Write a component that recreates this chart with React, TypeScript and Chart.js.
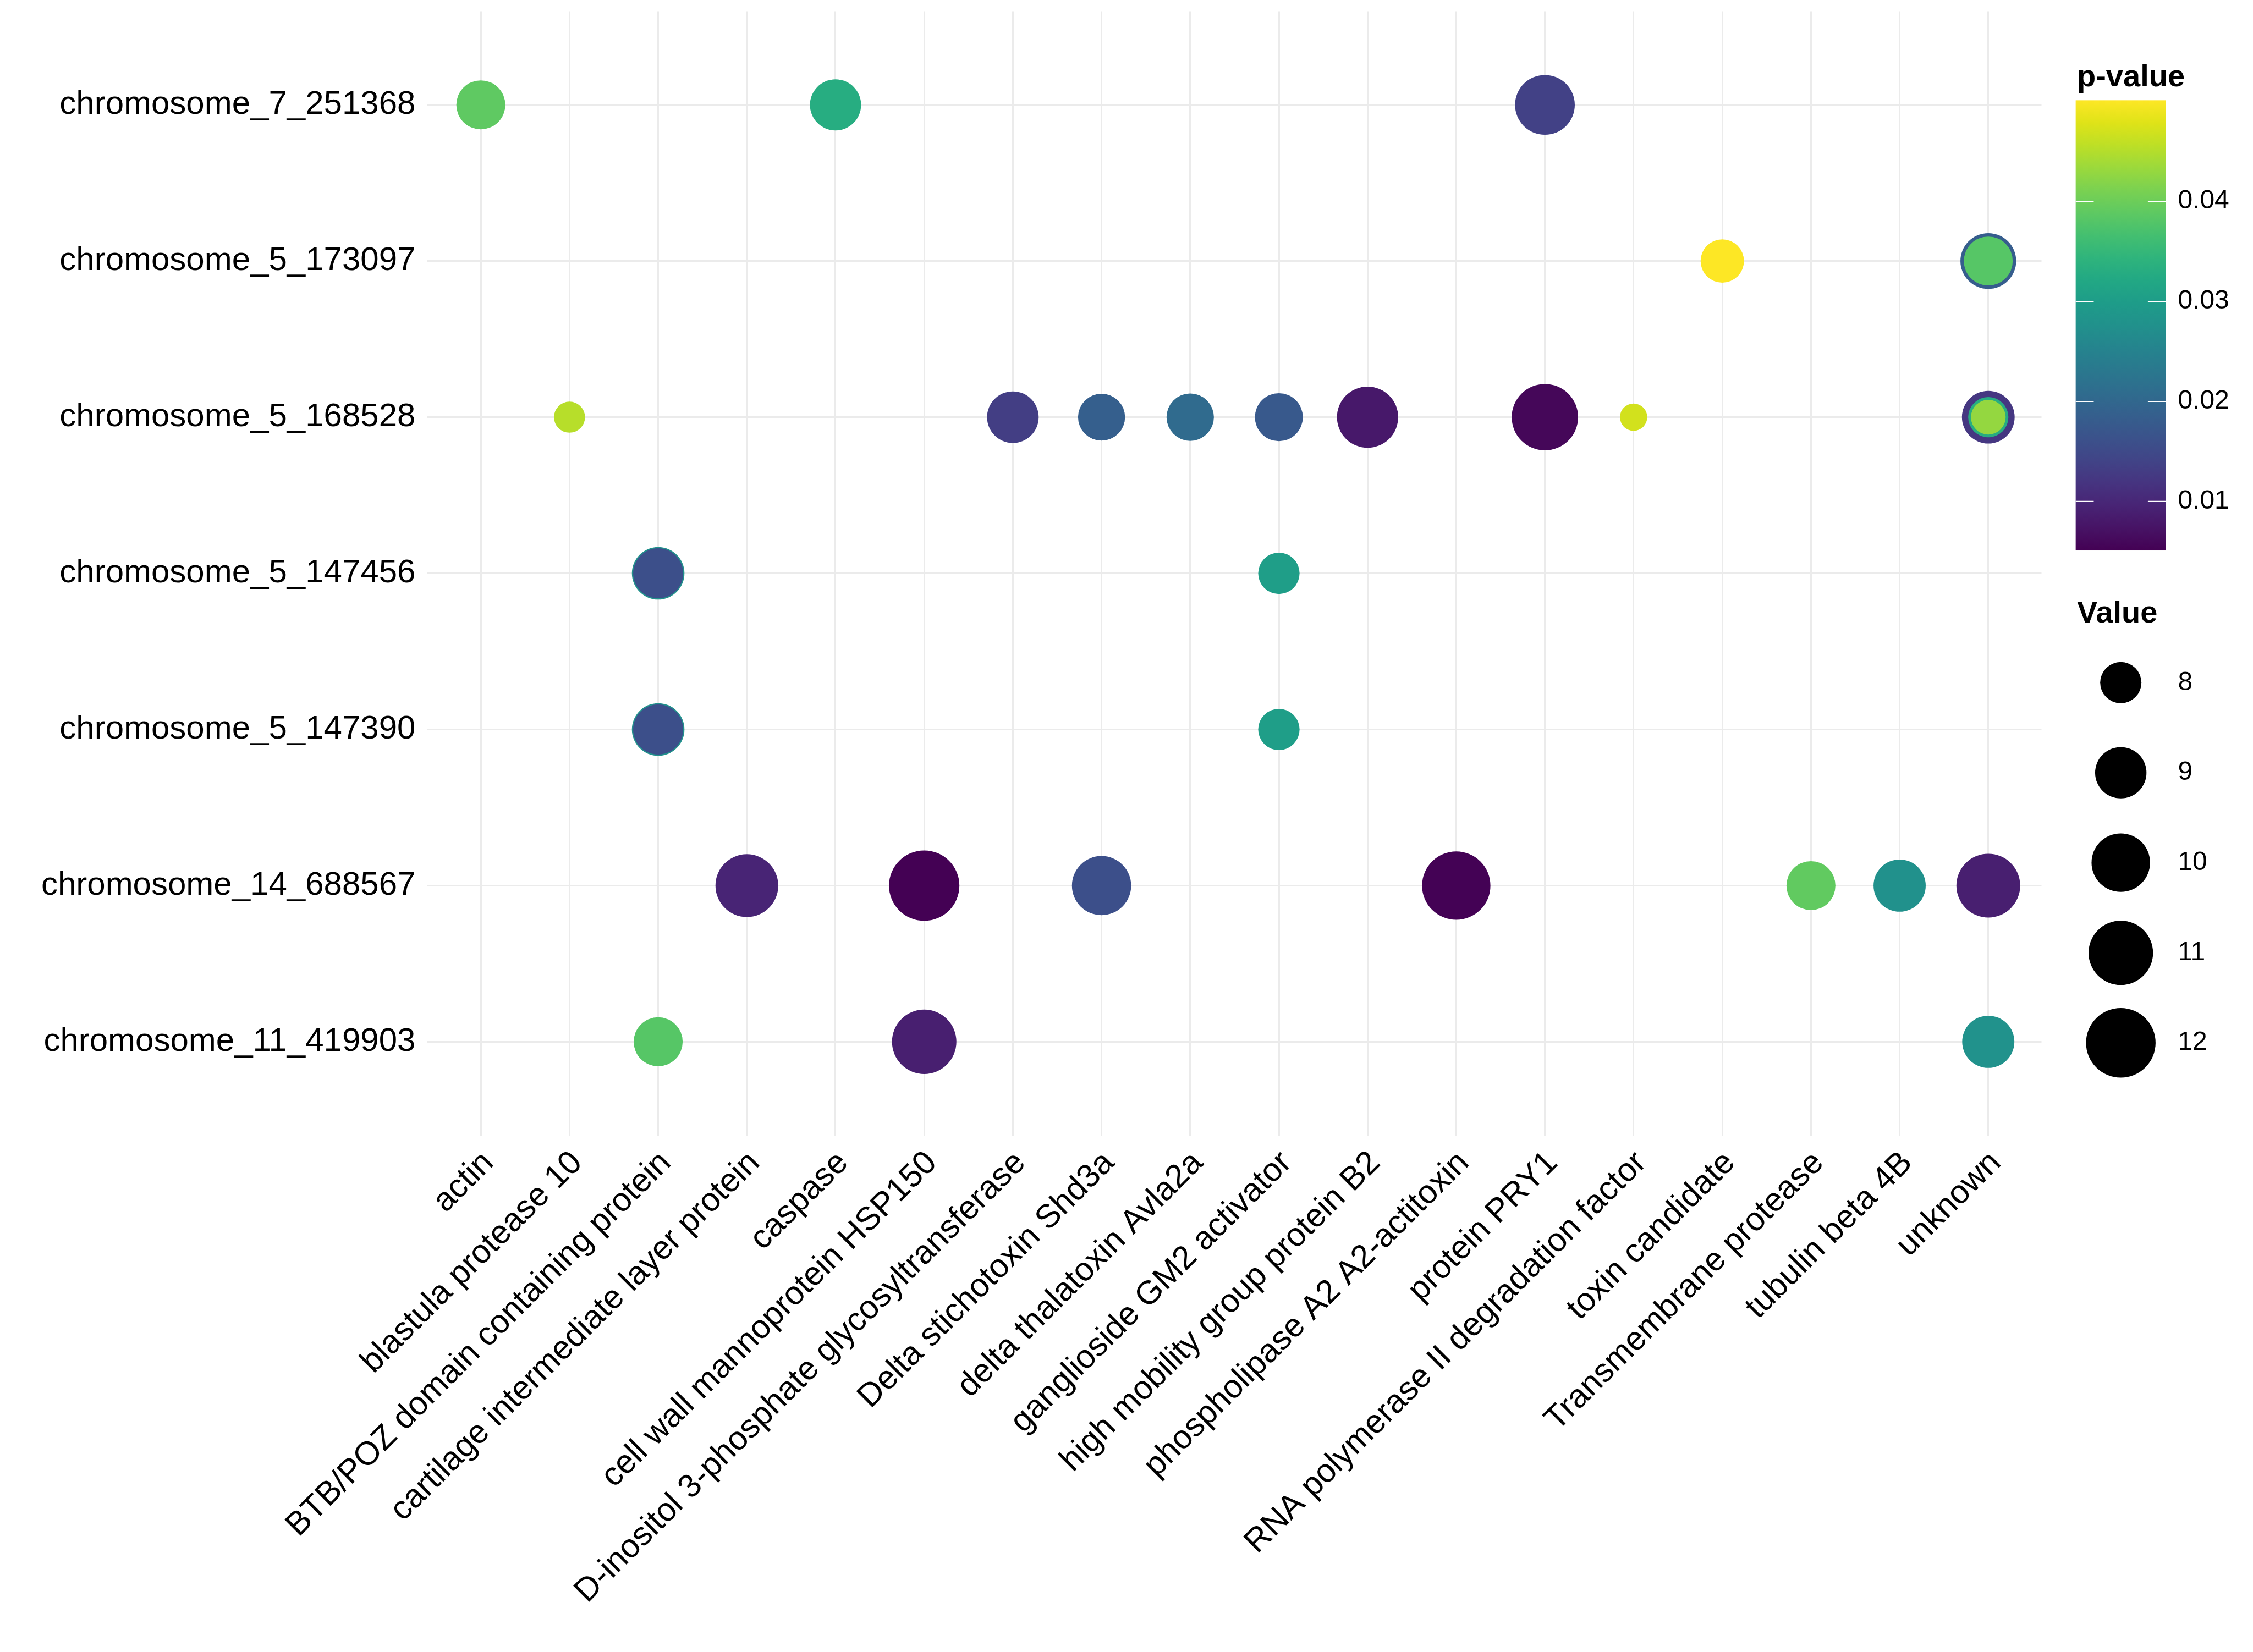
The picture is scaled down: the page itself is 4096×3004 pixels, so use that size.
import React, { useEffect, useRef } from 'react';
import { Chart, registerables } from 'chart.js';

Chart.register(...registerables);

// ---------- data ----------
const chromosomes = [
  'chromosome_7_251368',
  'chromosome_5_173097',
  'chromosome_5_168528',
  'chromosome_5_147456',
  'chromosome_5_147390',
  'chromosome_14_688567',
  'chromosome_11_419903',
];

const genes = [
  'actin',
  'blastula protease 10',
  'BTB/POZ domain containing protein',
  'cartilage intermediate layer protein',
  'caspase',
  'cell wall mannoprotein HSP150',
  'D-inositol 3-phosphate glycosyltransferase',
  'Delta stichotoxin Shd3a',
  'delta thalatoxin Avla2a',
  'ganglioside GM2 activator',
  'high mobility group protein B2',
  'phospholipase A2 A2-actitoxin',
  'protein PRY1',
  'RNA polymerase II degradation factor',
  'toxin candidate',
  'Transmembrane protease',
  'tubulin beta 4B',
  'unknown',
];

const pointGene = [
  'actin', 'caspase', 'protein PRY1',
  'toxin candidate', 'unknown', 'unknown',
  'blastula protease 10', 'D-inositol 3-phosphate glycosyltransferase', 'Delta stichotoxin Shd3a',
  'delta thalatoxin Avla2a', 'ganglioside GM2 activator', 'high mobility group protein B2',
  'protein PRY1', 'RNA polymerase II degradation factor', 'unknown', 'unknown', 'unknown',
  'BTB/POZ domain containing protein', 'BTB/POZ domain containing protein', 'ganglioside GM2 activator',
  'BTB/POZ domain containing protein', 'BTB/POZ domain containing protein', 'ganglioside GM2 activator',
  'cartilage intermediate layer protein', 'cell wall mannoprotein HSP150', 'Delta stichotoxin Shd3a',
  'phospholipase A2 A2-actitoxin', 'Transmembrane protease', 'tubulin beta 4B', 'unknown',
  'BTB/POZ domain containing protein', 'cell wall mannoprotein HSP150', 'unknown',
];

const pointChrom = [
  'chromosome_7_251368', 'chromosome_7_251368', 'chromosome_7_251368',
  'chromosome_5_173097', 'chromosome_5_173097', 'chromosome_5_173097',
  'chromosome_5_168528', 'chromosome_5_168528', 'chromosome_5_168528',
  'chromosome_5_168528', 'chromosome_5_168528', 'chromosome_5_168528',
  'chromosome_5_168528', 'chromosome_5_168528', 'chromosome_5_168528', 'chromosome_5_168528', 'chromosome_5_168528',
  'chromosome_5_147456', 'chromosome_5_147456', 'chromosome_5_147456',
  'chromosome_5_147390', 'chromosome_5_147390', 'chromosome_5_147390',
  'chromosome_14_688567', 'chromosome_14_688567', 'chromosome_14_688567',
  'chromosome_14_688567', 'chromosome_14_688567', 'chromosome_14_688567', 'chromosome_14_688567',
  'chromosome_11_419903', 'chromosome_11_419903', 'chromosome_11_419903',
];

const pointValue = [
  8.72, 8.97, 10.19,
  8.17, 9.58, 8.71,
  7.48, 9.03, 8.51,
  8.55, 8.61, 10.43,
  11.37, 7.41, 9.17, 7.93, 7.61,
  9.15, 8.84, 8.01,
  9.15, 8.84, 8.01,
  10.70, 12.18, 10.10,
  11.76, 8.72, 9.10, 10.88,
  8.72, 10.99, 9.10,
];

const pointPValue = [
  0.0389, 0.0330, 0.0137,
  0.0501, 0.0182, 0.0382,
  0.0452, 0.0132, 0.0186,
  0.0206, 0.0175, 0.0080,
  0.0058, 0.0470, 0.0123, 0.0330, 0.0429,
  0.0276, 0.0159, 0.0303,
  0.0276, 0.0159, 0.0303,
  0.0096, 0.0051, 0.0159,
  0.0052, 0.0391, 0.0276, 0.0089,
  0.0382, 0.0089, 0.0278,
];

const pValueTicks = [0.01, 0.02, 0.03, 0.04];
const sizeLegendValues = [8, 9, 10, 11, 12];

// ---------- styling ----------
const W = 4096;
const H = 3004;
const S = W / 1568; // layout measured on a 1568-wide grid
const FONT = "'Liberation Sans', Arial, Helvetica, sans-serif";

const VIRIDIS = [
  '#440154', '#471365', '#482475', '#463480', '#414487', '#3b528b', '#355f8d',
  '#2f6c8e', '#2a788e', '#25848e', '#21918c', '#1e9c89', '#22a884', '#2fb47c',
  '#44bf70', '#5ec962', '#7ad151', '#9bd93c', '#bddf26', '#dfe318', '#fde725',
];
const P_MIN = 0.0051;
const P_MAX = 0.0501;

function hexToRgb(h: string) {
  const n = parseInt(h.slice(1), 16);
  return [(n >> 16) & 255, (n >> 8) & 255, n & 255];
}
function viridis(t: number) {
  const tt = Math.min(1, Math.max(0, t)) * (VIRIDIS.length - 1);
  const i = Math.min(VIRIDIS.length - 2, Math.floor(tt));
  const f = tt - i;
  const a = hexToRgb(VIRIDIS[i]);
  const b = hexToRgb(VIRIDIS[i + 1]);
  const c = a.map((v, k) => Math.round(v + (b[k] - v) * f));
  return `rgb(${c[0]},${c[1]},${c[2]})`;
}
function pColor(p: number) {
  return viridis((p - P_MIN) / (P_MAX - P_MIN));
}
function bubbleRadius(v: number) {
  const d = 17.56 + 14.38 * Math.sqrt(Math.max(0, v - 7.4));
  return (d * S) / 2;
}

// layout (target px)
const PANEL_LEFT = 297.6 * S;
const PANEL_RIGHT = 1420.8 * S;
const PANEL_TOP = 7.8 * S;
const PANEL_BOTTOM = 790.4 * S;

const legendPlugin = {
  id: 'ggLegends',
  afterDraw(chart: any) {
    const ctx = chart.ctx;
    ctx.save();
    // colour bar
    const barX = 1444.6 * S;
    const barW = 62.8 * S;
    const barTop = 69.8 * S;
    const barBot = 383.2 * S;
    const labelX = 1515.7 * S;

    ctx.fillStyle = '#000';
    ctx.font = `bold ${Math.round(21.3 * S)}px ${FONT}`;
    ctx.textAlign = 'left';
    ctx.textBaseline = 'alphabetic';
    ctx.fillText('p-value', 1445.5 * S, 60 * S);

    const grad = ctx.createLinearGradient(0, barTop, 0, barBot);
    VIRIDIS.forEach((c, i) => {
      grad.addColorStop(1 - i / (VIRIDIS.length - 1), c);
    });
    ctx.fillStyle = grad;
    ctx.fillRect(barX, barTop, barW, barBot - barTop);

    ctx.font = `${Math.round(18.3 * S)}px ${FONT}`;
    ctx.textBaseline = 'middle';
    pValueTicks.forEach((p) => {
      const y = barTop + ((P_MAX - p) / (P_MAX - P_MIN)) * (barBot - barTop);
      ctx.strokeStyle = '#ffffff';
      ctx.lineWidth = 2;
      ctx.beginPath();
      ctx.moveTo(barX, y);
      ctx.lineTo(barX + barW / 5, y);
      ctx.moveTo(barX + barW, y);
      ctx.lineTo(barX + barW - barW / 5, y);
      ctx.stroke();
      ctx.fillStyle = '#000';
      ctx.fillText(p.toFixed(2), labelX, y);
    });

    // size legend
    ctx.font = `bold ${Math.round(21.3 * S)}px ${FONT}`;
    ctx.textBaseline = 'alphabetic';
    ctx.fillText('Value', 1445.5 * S, 433.4 * S);
    const cx = 1476 * S;
    const rowY = [475.2, 537.9, 600.5, 663.3, 725.9];
    ctx.font = `${Math.round(18.3 * S)}px ${FONT}`;
    ctx.textBaseline = 'middle';
    sizeLegendValues.forEach((v, i) => {
      const y = rowY[i] * S;
      ctx.fillStyle = '#000';
      ctx.beginPath();
      ctx.arc(cx, y, bubbleRadius(v), 0, Math.PI * 2);
      ctx.fill();
      ctx.fillText(String(v), labelX, y);
    });
    ctx.restore();
  },
};

export default function App() {
  const ref = useRef<HTMLCanvasElement | null>(null);

  useEffect(() => {
    if (!ref.current) return;
    const data = pointGene.map((g, i) => ({
      x: genes.indexOf(g),
      y: chromosomes.indexOf(pointChrom[i]),
      r: bubbleRadius(pointValue[i]),
    }));
    const colors = pointPValue.map(pColor);

    const chart = new Chart(ref.current, {
      type: 'bubble',
      data: {
        datasets: [
          {
            label: 'Value',
            data,
            backgroundColor: colors,
            borderWidth: 0,
            hoverBorderWidth: 0,
          } as any,
        ],
      },
      options: {
        responsive: false,
        animation: false,
        devicePixelRatio: 1,
        layout: {
          autoPadding: false,
          padding: { left: 0, right: W - PANEL_RIGHT, top: PANEL_TOP, bottom: 0 },
        },
        plugins: {
          legend: { display: false },
          tooltip: { enabled: false },
        },
        scales: {
          x: {
            type: 'linear',
            position: 'bottom',
            min: -0.6,
            max: genes.length - 1 + 0.6,
            afterBuildTicks: (scale: any) => {
              scale.ticks = genes.map((_, i) => ({ value: i }));
            },
            afterFit: (scale: any) => {
              scale.height = H - PANEL_BOTTOM;
              scale.paddingLeft = 0;
              scale.paddingRight = 0;
              scale.paddingTop = 0;
              scale.paddingBottom = 0;
            },
            grid: { color: '#ebebeb', lineWidth: 3, drawTicks: false },
            border: { display: false },
            ticks: {
              autoSkip: false,
              minRotation: 45,
              maxRotation: 45,
              padding: 15,
              labelOffset: 14,
              color: '#000',
              font: { family: FONT, size: 60 },
              callback: (v: any) => genes[Math.round(Number(v))] ?? '',
            },
          },
          y: {
            type: 'linear',
            position: 'left',
            reverse: true,
            min: -0.6,
            max: chromosomes.length - 1 + 0.6,
            afterBuildTicks: (scale: any) => {
              scale.ticks = chromosomes.map((_, i) => ({ value: i }));
            },
            afterFit: (scale: any) => {
              scale.width = PANEL_LEFT;
              scale.paddingLeft = 0;
              scale.paddingRight = 0;
              scale.paddingTop = 0;
              scale.paddingBottom = 0;
            },
            grid: { color: '#ebebeb', lineWidth: 3, drawTicks: false },
            border: { display: false },
            ticks: {
              autoSkip: false,
              padding: 22,
              color: '#000',
              font: { family: FONT, size: 60 },
              callback: (v: any) => chromosomes[Math.round(Number(v))] ?? '',
            },
          },
        },
      },
      plugins: [legendPlugin],
    } as any);

    return () => chart.destroy();
  }, []);

  return (
    <div style={{ position: 'absolute', left: 0, top: 0, width: W, height: H, background: '#fff' }}>
      <canvas ref={ref} width={W} height={H} style={{ width: W, height: H, display: 'block' }} />
    </div>
  );
}
